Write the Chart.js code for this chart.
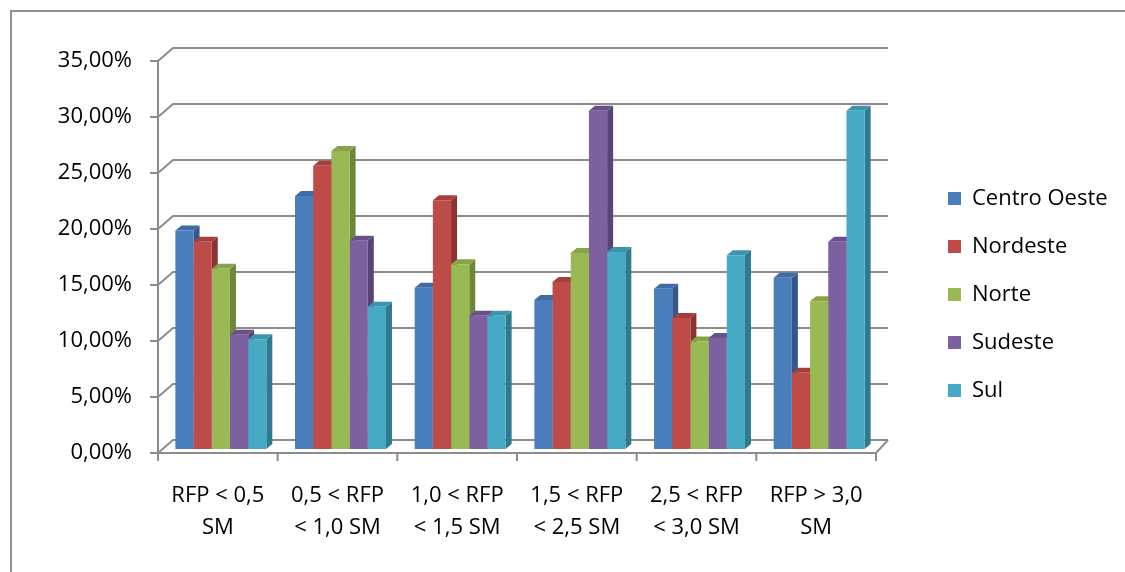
<!DOCTYPE html>
<html>
<head>
<meta charset="utf-8">
<script src="https://cdn.jsdelivr.net/npm/chart.js@4.4.0/dist/chart.umd.min.js"></script>
<style>
  html, body { margin: 0; padding: 0; background: #fff; overflow: hidden; }
  #frame { position: absolute; left: 10px; top: 10px; width: 1400px; height: 900px;
           border-left: 2px solid #8e8e8e; border-top: 2px solid #8e8e8e; }
  #wrap { position: absolute; left: 0; top: 0; width: 1125px; height: 572px; }
</style>
</head>
<body>
<div id="frame"></div>
<div id="wrap"><canvas id="chart-area"></canvas></div>
<script>
// faixas de renda (categorias)
var faixas = [
  ['RFP < 0,5', 'SM'],
  ['0,5 < RFP', '< 1,0 SM'],
  ['1,0 < RFP', '< 1,5 SM'],
  ['1,5 < RFP', '< 2,5 SM'],
  ['2,5 < RFP', '< 3,0 SM'],
  ['RFP > 3,0', 'SM']
];

var regioes = ['Centro Oeste', 'Nordeste', 'Norte', 'Sudeste', 'Sul'];

// valores em %
var centroOeste = [19.5, 22.6, 14.4, 13.3, 14.3, 15.3];
var nordeste    = [18.5, 25.3, 22.2, 14.9, 11.7, 6.8];
var norte       = [16.1, 26.6, 16.5, 17.5, 9.6, 13.2];
var sudeste     = [10.2, 18.6, 11.9, 30.2, 9.9, 18.5];
var sul         = [9.8, 12.7, 11.9, 17.6, 17.3, 30.2];

var yTicks = [0, 5, 10, 15, 20, 25, 30, 35];

var frente = ['#4A7EBB', '#BE4B48', '#98B954', '#7D60A0', '#46AAC5'];
var lados  = ['#35588A', '#8A3331', '#6E873A', '#5A4475', '#307A8F'];
var topos  = ['#3E6CA4', '#A63F3C', '#86A448', '#6A5089', '#3B95AE'];

var series = [centroOeste, nordeste, norte, sudeste, sul];

function fmt(v) {
  return v.toFixed(2).replace('.', ',') + '%';
}

// parede de fundo + efeito 3D das barras
var efeito3d = {
  id: 'efeito3d',
  afterLayout: function(chart) {
    // legenda: posicao como no Excel
    var lg = chart.legend;
    lg.left = 948 - 26;
    lg.right = 1125;
    lg.width = lg.right - lg.left;
    lg.top = 61;
    lg.bottom = 528;
    lg.height = lg.bottom - lg.top;
  },
  beforeDatasetsDraw: function(chart) {
    var ctx = chart.ctx, a = chart.chartArea, y = chart.scales.y;
    var dxL = 15, dxR = 12, dyW = 13;
    ctx.save();
    ctx.strokeStyle = '#8c8c8c';
    ctx.lineWidth = 2;
    yTicks.forEach(function(t) {
      var py = y.getPixelForValue(t);
      ctx.beginPath();
      ctx.moveTo(a.left - 8, py);
      ctx.lineTo(a.left, py);
      ctx.lineTo(a.left + dxL, py - dyW);
      ctx.lineTo(a.right + dxR, py - dyW);
      ctx.stroke();
    });
    ctx.beginPath();
    ctx.moveTo(a.left, y.getPixelForValue(35));
    ctx.lineTo(a.left, a.bottom);
    ctx.lineTo(a.right, a.bottom);
    ctx.lineTo(a.right + dxR, a.bottom - dyW);
    var n = faixas.length;
    for (var i = 0; i <= n; i++) {
      var px = a.left + i * (a.right - a.left) / n;
      ctx.moveTo(px, a.bottom);
      ctx.lineTo(px, a.bottom + 8);
    }
    ctx.stroke();
    ctx.restore();

    // barras: deslocamento de profundidade, faces laterais e de topo
    ctx.save();
    ctx.translate(3, -4);
    var dx = 6, dy = 5;
    chart.data.datasets.forEach(function(ds, di) {
      chart.getDatasetMeta(di).data.forEach(function(bar) {
        var p = bar.getProps(['x', 'y', 'base', 'width'], true);
        var l = p.x - p.width / 2, r = p.x + p.width / 2;
        ctx.fillStyle = lados[di];
        ctx.beginPath();
        ctx.moveTo(r, p.y);
        ctx.lineTo(r + dx, p.y - dy);
        ctx.lineTo(r + dx, p.base - dy);
        ctx.lineTo(r, p.base);
        ctx.closePath();
        ctx.fill();
        ctx.fillStyle = topos[di];
        ctx.beginPath();
        ctx.moveTo(l, p.y);
        ctx.lineTo(l + dx, p.y - dy);
        ctx.lineTo(r + dx, p.y - dy);
        ctx.lineTo(r, p.y);
        ctx.closePath();
        ctx.fill();
      });
    });
  },
  afterDatasetsDraw: function(chart) {
    chart.ctx.restore();
  }
};

var config = {
  type: 'bar',
  data: {
    labels: faixas,
    datasets: regioes.map(function(nome, i) {
      return {
        label: nome,
        data: series[i],
        backgroundColor: frente[i],
        borderWidth: 0,
        categoryPercentage: 0.76,
        barPercentage: 1.0
      };
    })
  },
  options: {
    responsive: false,
    animation: false,
    events: [],
    layout: { padding: { left: 0, top: 61, right: 69, bottom: 0 } },
    scales: {
      x: {
        grid: { display: false, drawTicks: false },
        border: { display: false },
        ticks: {
          padding: 27,
          maxRotation: 0,
          autoSkip: false,
          color: '#000',
          font: { family: 'Open Sans', size: 22, lineHeight: 1.45 }
        },
        afterFit: function(scale) { scale.height = 119; }
      },
      y: {
        min: 0,
        max: 35,
        grid: { display: false, drawTicks: false },
        border: { display: false },
        ticks: {
          stepSize: 5,
          padding: 26,
          color: '#000',
          font: { family: 'Open Sans', size: 22 },
          callback: function(v) { return fmt(v); }
        },
        afterFit: function(scale) { scale.width = 158; }
      }
    },
    plugins: {
      tooltip: { enabled: false },
      legend: {
        display: true,
        position: 'right',
        maxWidth: 180,
        labels: {
          boxWidth: 13,
          boxHeight: 13,
          padding: 26,
          color: '#000',
          font: { family: 'Open Sans', size: 22 }
        }
      }
    }
  },
  plugins: [efeito3d]
};

window.onload = function() {
  var canvas = document.getElementById('chart-area');
  canvas.width = 1125;
  canvas.height = 572;
  var ctx = canvas.getContext('2d');
  window.myBar = new Chart(ctx, config);
};
</script>
</body>
</html>
